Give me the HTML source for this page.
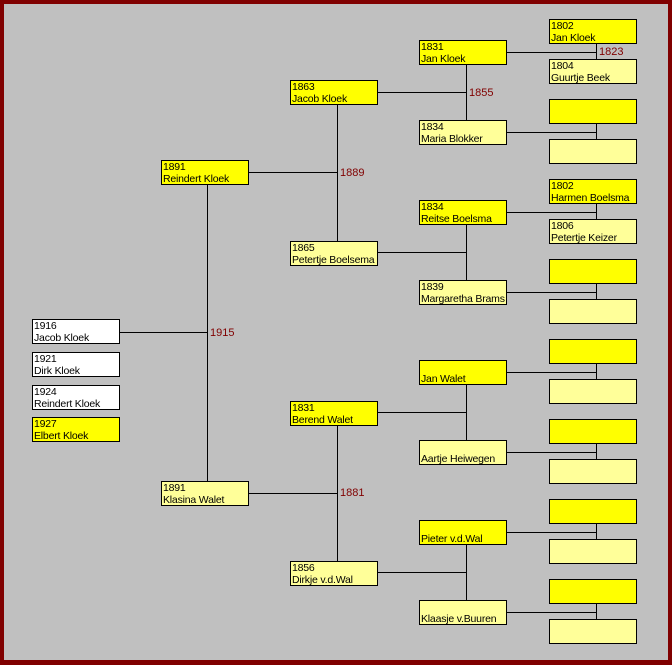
<!DOCTYPE html>
<html><head><meta charset="utf-8"><style>
html,body{margin:0;padding:0}
body{width:672px;height:665px;position:relative;overflow:hidden;font-family:"Liberation Sans",Arial,sans-serif}
#f{position:absolute;left:0;top:0;width:664px;height:656px;border:4px solid #800000;border-bottom-width:5px;background:#c0c0c0}
.b{position:absolute;width:85px;height:23px;border:1px solid #000;font-size:10.5px;line-height:12px;padding:0 0 0 1px;box-sizing:content-box;white-space:nowrap;overflow:hidden;color:#000;letter-spacing:-0.2px}
.m{background:#ffff00}.w{background:#ffff99}.c{background:#fff}
.l{position:absolute;font-size:11px;color:#800000;line-height:12px}
svg{position:absolute;left:0;top:0}
</style></head><body>
<div id="f"></div>
<svg width="672" height="665">
<g stroke="#000" stroke-width="1" shape-rendering="crispEdges">
<line x1="119" y1="332.5" x2="207" y2="332.5"/>
<line x1="207.5" y1="185" x2="207.5" y2="481"/>
<line x1="248" y1="172.5" x2="337" y2="172.5"/>
<line x1="337.5" y1="105" x2="337.5" y2="241"/>
<line x1="248" y1="493.5" x2="337" y2="493.5"/>
<line x1="337.5" y1="426" x2="337.5" y2="561"/>
<line x1="377" y1="92.5" x2="466" y2="92.5"/><line x1="466.5" y1="65" x2="466.5" y2="120"/>
<line x1="377" y1="252.5" x2="466" y2="252.5"/><line x1="466.5" y1="225" x2="466.5" y2="280"/>
<line x1="377" y1="412.5" x2="466" y2="412.5"/><line x1="466.5" y1="385" x2="466.5" y2="440"/>
<line x1="377" y1="572.5" x2="466" y2="572.5"/><line x1="466.5" y1="545" x2="466.5" y2="600"/>
<line x1="507" y1="52.5" x2="596" y2="52.5"/><line x1="596.5" y1="44" x2="596.5" y2="59"/>
<line x1="507" y1="132.5" x2="596" y2="132.5"/><line x1="596.5" y1="124" x2="596.5" y2="139"/>
<line x1="507" y1="212.5" x2="596" y2="212.5"/><line x1="596.5" y1="204" x2="596.5" y2="219"/>
<line x1="507" y1="292.5" x2="596" y2="292.5"/><line x1="596.5" y1="284" x2="596.5" y2="299"/>
<line x1="507" y1="372.5" x2="596" y2="372.5"/><line x1="596.5" y1="364" x2="596.5" y2="379"/>
<line x1="507" y1="452.5" x2="596" y2="452.5"/><line x1="596.5" y1="444" x2="596.5" y2="459"/>
<line x1="507" y1="532.5" x2="596" y2="532.5"/><line x1="596.5" y1="524" x2="596.5" y2="539"/>
<line x1="507" y1="612.5" x2="596" y2="612.5"/><line x1="596.5" y1="604" x2="596.5" y2="619"/>
</g></svg>
<div class="l" style="left:210px;top:327px">1915</div>
<div class="l" style="left:340px;top:167px">1889</div>
<div class="l" style="left:340px;top:487px">1881</div>
<div class="l" style="left:469px;top:87px">1855</div>
<div class="l" style="left:599px;top:46px">1823</div>

<div class="b c" style="left:32px;top:319px">1916<br>Jacob Kloek</div>
<div class="b c" style="left:32px;top:352px">1921<br>Dirk Kloek</div>
<div class="b c" style="left:32px;top:385px">1924<br>Reindert Kloek</div>
<div class="b m" style="left:32px;top:417px">1927<br>Elbert Kloek</div>

<div class="b m" style="left:161px;top:160px">1891<br>Reindert Kloek</div>
<div class="b w" style="left:161px;top:481px">1891<br>Klasina Walet</div>

<div class="b m" style="left:290px;top:80px">1863<br>Jacob Kloek</div>
<div class="b w" style="left:290px;top:241px">1865<br>Petertje Boelsema</div>
<div class="b m" style="left:290px;top:401px">1831<br>Berend Walet</div>
<div class="b w" style="left:290px;top:561px">1856<br>Dirkje v.d.Wal</div>

<div class="b m" style="left:419px;top:40px">1831<br>Jan Kloek</div>
<div class="b w" style="left:419px;top:120px">1834<br>Maria Blokker</div>
<div class="b m" style="left:419px;top:200px">1834<br>Reitse Boelsma</div>
<div class="b w" style="left:419px;top:280px">1839<br>Margaretha Brams</div>
<div class="b m" style="left:419px;top:360px"><br>Jan Walet</div>
<div class="b w" style="left:419px;top:440px"><br>Aartje Heiwegen</div>
<div class="b m" style="left:419px;top:520px"><br>Pieter v.d.Wal</div>
<div class="b w" style="left:419px;top:600px"><br>Klaasje v.Buuren</div>

<div class="b m" style="left:549px;top:19px">1802<br>Jan Kloek</div>
<div class="b w" style="left:549px;top:59px">1804<br>Guurtje Beek</div>
<div class="b m" style="left:549px;top:99px"></div>
<div class="b w" style="left:549px;top:139px"></div>
<div class="b m" style="left:549px;top:179px">1802<br>Harmen Boelsma</div>
<div class="b w" style="left:549px;top:219px">1806<br>Petertje Keizer</div>
<div class="b m" style="left:549px;top:259px"></div>
<div class="b w" style="left:549px;top:299px"></div>
<div class="b m" style="left:549px;top:339px"></div>
<div class="b w" style="left:549px;top:379px"></div>
<div class="b m" style="left:549px;top:419px"></div>
<div class="b w" style="left:549px;top:459px"></div>
<div class="b m" style="left:549px;top:499px"></div>
<div class="b w" style="left:549px;top:539px"></div>
<div class="b m" style="left:549px;top:579px"></div>
<div class="b w" style="left:549px;top:619px"></div>
</body></html>
